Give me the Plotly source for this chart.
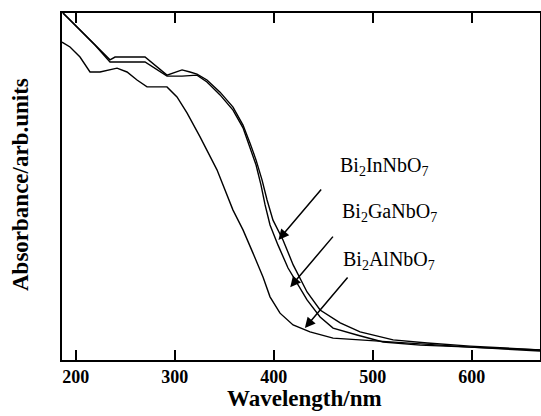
import plotly.graph_objects as go

# Bi2InNbO7
wl_in = [187, 204.2, 219.3, 234.5, 239.6, 269.9, 292.1, 300.2, 307.3, 315.3, 322.4, 332.5,
         345.7, 358.8, 368.9, 376.0, 382.1, 388.1, 393.2, 399.2, 409.3, 419.6, 433.6, 446.8,
         467.1, 487.2, 520.6, 555.1, 598.4, 669]
abs_in = [1.0, 0.951, 0.908, 0.865, 0.873, 0.873, 0.821, 0.830, 0.836, 0.830, 0.824, 0.807,
          0.772, 0.729, 0.677, 0.625, 0.576, 0.519, 0.461, 0.403, 0.346, 0.274, 0.196, 0.144,
          0.107, 0.081, 0.058, 0.049, 0.040, 0.029]

# Bi2GaNbO7
wl_ga = [187, 204.2, 219.3, 234.5, 269.9, 292.1, 307.3, 322.4, 332.5, 345.7, 358.8, 368.9,
         376.0, 382.1, 387.1, 391.2, 396.2, 404.3, 414.4, 423.5, 433.6, 446.8, 459.9, 484.1,
         510.4, 547.9, 598.4, 669]
abs_ga = [1.0, 0.951, 0.908, 0.859, 0.859, 0.818, 0.818, 0.821, 0.801, 0.764, 0.720, 0.669,
          0.614, 0.562, 0.504, 0.447, 0.389, 0.331, 0.265, 0.222, 0.173, 0.124, 0.092, 0.072,
          0.052, 0.043, 0.037, 0.026]

# Bi2AlNbO7
wl_al = [186, 194.1, 204.2, 214.3, 224.4, 241.6, 251.7, 261.8, 271.9, 292.1, 302.2, 312.3,
         325.5, 342.6, 358.8, 368.9, 379.0, 389.1, 396.2, 406.3, 419.5, 436.6, 459.9, 487.1,
         527.5, 598.4, 669]
abs_al = [0.916, 0.902, 0.873, 0.830, 0.830, 0.841, 0.830, 0.807, 0.787, 0.787, 0.758, 0.712,
          0.643, 0.548, 0.432, 0.375, 0.308, 0.239, 0.182, 0.135, 0.101, 0.081, 0.063, 0.058,
          0.049, 0.037, 0.029]

labels = ["Bi<sub>2</sub>InNbO<sub>7</sub>", "Bi<sub>2</sub>GaNbO<sub>7</sub>", "Bi<sub>2</sub>AlNbO<sub>7</sub>"]
label_x = [465.0, 467.0, 468.0]
label_y = [0.557, 0.424, 0.288]
arrow_tip_x = [404.7, 416.6, 431.4]
arrow_tip_y = [0.346, 0.210, 0.092]

x_ticks = [200, 300, 400, 500, 600]

FONT = "Liberation Serif"

fig = go.Figure()
for wl, ab in [(wl_in, abs_in), (wl_ga, abs_ga), (wl_al, abs_al)]:
    fig.add_trace(go.Scatter(x=wl, y=ab, mode="lines",
                             line=dict(color="black", width=1.4), showlegend=False))

for lab, lx, ly in zip(labels, label_x, label_y):
    fig.add_annotation(x=lx, y=ly, text=lab, showarrow=False, xanchor="left", yanchor="middle",
                       font=dict(family=FONT, size=20, color="black"))

for tx, ty in zip(arrow_tip_x, arrow_tip_y):
    fig.add_annotation(x=tx, y=ty, text="", showarrow=True, ax=44, ay=-52,
                       arrowhead=2, arrowsize=1.4, arrowwidth=1.5, arrowcolor="black")

# axis titles
fig.add_annotation(x=0.508, y=-0.11, xref="paper", yref="paper", text="Wavelength/nm",
                   showarrow=False, xanchor="center", yanchor="middle",
                   font=dict(family=FONT, size=23, weight="bold", color="black"))
fig.add_annotation(x=-0.088, y=0.507, xref="paper", yref="paper", text="Absorbance/arb.units",
                   showarrow=False, xanchor="center", yanchor="middle", textangle=-90,
                   font=dict(family=FONT, size=23, weight="bold", color="black"))

fig.update_layout(
    width=541, height=416,
    margin=dict(l=62, r=1, t=13, b=56, autoexpand=False),
    paper_bgcolor="white", plot_bgcolor="white",
    font=dict(family=FONT, color="black"),
)
fig.update_xaxes(range=[186, 669], tickvals=x_ticks, ticks="inside", ticklen=10, tickwidth=1.5,
                 tickcolor="black", showline=True, linecolor="black", linewidth=1.5,
                 mirror="ticks", showgrid=False, zeroline=False, automargin=False,
                 tickfont=dict(family=FONT, size=18, weight="bold", color="black"))
fig.update_yaxes(range=[0, 1], showticklabels=False, ticks="", showline=True, linecolor="black",
                 linewidth=1.5, mirror=True, showgrid=False, zeroline=False, automargin=False)

fig.write_html("out.html", config={"displayModeBar": False},
               post_script="document.body.style.margin='0';document.body.style.overflow='hidden';")
